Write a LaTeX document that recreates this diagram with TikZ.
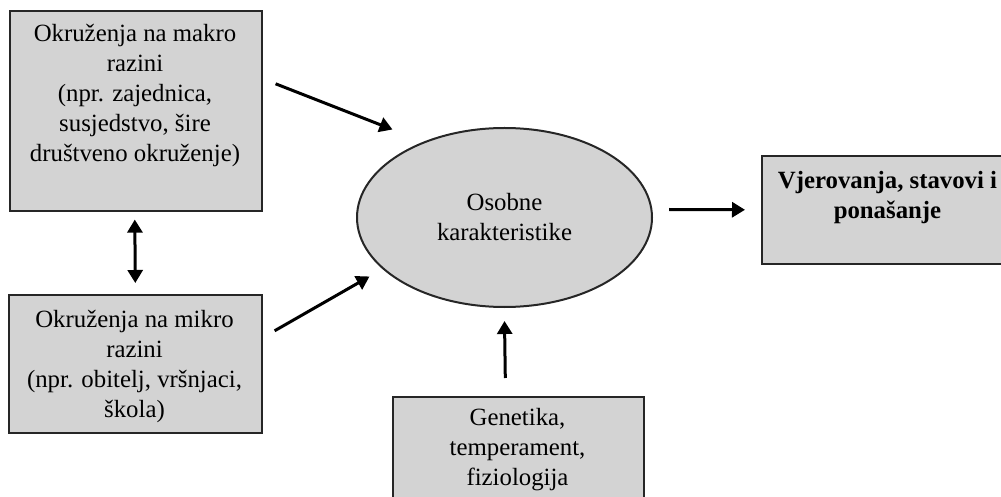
\documentclass[tikz,border=0pt]{standalone}
\usepackage{fontspec}
\setmainfont{Liberation Serif}
\usetikzlibrary{shapes.geometric,arrows.meta}
\definecolor{boxgray}{RGB}{211,211,211}
\tikzset{
  okvir/.style={draw=black!85, fill=boxgray, line width=0.8pt, inner sep=0pt},
  tekst/.style={align=center, font=\fontsize{12.4}{15}\selectfont},
  strelica/.style={line width=1.5pt, -{Triangle[length=6.5pt,width=7.5pt]}},
  dvostrelica/.style={line width=1.5pt, {Triangle[length=6.5pt,width=7.5pt]}-{Triangle[length=6.5pt,width=7.5pt]}}
}
\begin{document}
\begin{tikzpicture}[x=0.5pt,y=-0.5pt]
    \useasboundingbox (0,0) rectangle (1001,497);

    % lijevi stupac
    \node[okvir, anchor=north west, minimum width=126pt, minimum height=100pt] (makro) at (9,10) {};
    \node[tekst] (makrotxt) at (135,96) {Okruženja na makro\\razini\\(npr. zajednica,\\susjedstvo, šire\\društveno okruženje)};

    \node[okvir, anchor=north west, minimum width=126.5pt, minimum height=69pt] (mikro) at (8,294) {};
    \node[tekst] (mikrotxt) at (134.5,367) {Okruženja na mikro\\razini\\(npr. obitelj, vršnjaci,\\škola)};

    % sredina
    \node[okvir, tekst, ellipse, line width=1pt, minimum width=147.5pt, minimum height=89.5pt] (osobne) at (504.5,217.5)
      {Osobne\\karakteristike};

    \node[okvir, anchor=north west, minimum width=125.5pt, minimum height=60pt] (genetika) at (392,396) {};
    \node[tekst] (genetikatxt) at (517.5,450) {Genetika,\\temperament,\\fiziologija};

    % desno
    \node[okvir, anchor=north west, minimum width=126.5pt, minimum height=54pt] (ishod) at (761,155) {};
    \node[tekst, font=\fontsize{12.4}{15}\selectfont\bfseries] (ishodtxt) at (887.5,198) {Vjerovanja, stavovi i\\ponašanje};

    % strelice
    \draw[dvostrelica] ([shift={(-1,8)}]makro.south) -- ([shift={(0,-11)}]mikro.north);
    \draw[strelica] ([shift={(13,-27)}]makro.east) -- ([shift={(-7,-24)}]osobne.north west);
    \draw[strelica] ([shift={(12,-33)}]mikro.east) -- ([shift={(-30,-5)}]osobne.south west);
    \draw[strelica] ([shift={(-13,-18)}]genetika.north) -- ([shift={(0,13)}]osobne.south);
    \draw[strelica] ([shift={(16,-8)}]osobne.east) -- ([shift={(-16,0)}]ishod.west);
\end{tikzpicture}
\end{document}
